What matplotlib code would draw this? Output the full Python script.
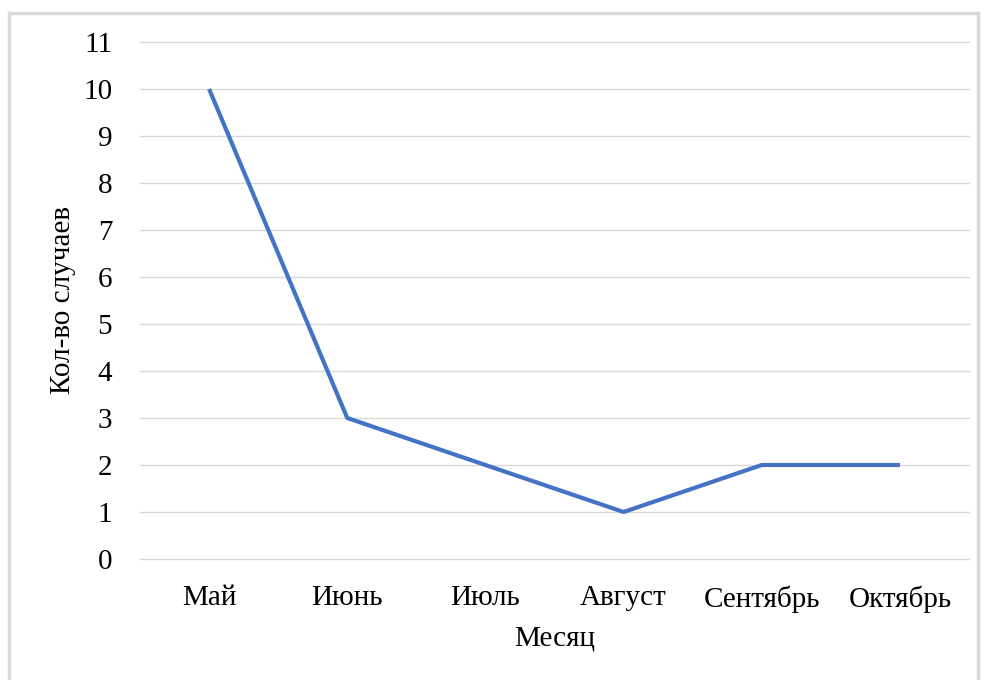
import matplotlib.pyplot as plt
from matplotlib.patches import Rectangle

meses = ['Май', 'Июнь', 'Июль', 'Август', 'Сентябрь', 'Октябрь']
casos = [10, 3, 2, 1, 2, 2]
y_ticks = list(range(0, 12))

plt.rcParams['font.family'] = ['Liberation Serif', 'DejaVu Serif']

fig = plt.figure(figsize=(9.84, 6.8), dpi=100)
ax = fig.add_axes([140 / 984, 1 - 559 / 680, 829 / 984, 517 / 680])

# marco gris alrededor del gráfico
fig.patches.append(Rectangle((9 / 984, -0.05), 969 / 984, 1 - 13 / 680 + 0.05,
                             transform=fig.transFigure, fill=False,
                             edgecolor='#D9D9D9', linewidth=2.5))

x = list(range(len(meses)))
ax.plot(x, casos, color='#4472C4', linewidth=3, solid_capstyle='butt')

ax.set_xlim(-0.5, len(meses) - 0.5)
ax.set_ylim(0, 11)
ax.set_yticks(y_ticks)
ax.set_xticks(x)
ax.set_xticklabels(meses)
ax.grid(axis='y', color='#D9D9D9', linewidth=1)
for gl in ax.get_ygridlines():
    gl.set_clip_on(False)
ax.set_axisbelow(True)
for s in ax.spines.values():
    s.set_visible(False)
ax.tick_params(length=0, labelsize=21, colors='black')
ax.tick_params(axis='y', pad=20)
ax.tick_params(axis='x', pad=19)

ax.set_xlabel('Месяц', fontsize=21, labelpad=9)
ax.set_ylabel('Кол-во случаев', fontsize=21, labelpad=5)

fig.savefig('out.png', dpi=100)
